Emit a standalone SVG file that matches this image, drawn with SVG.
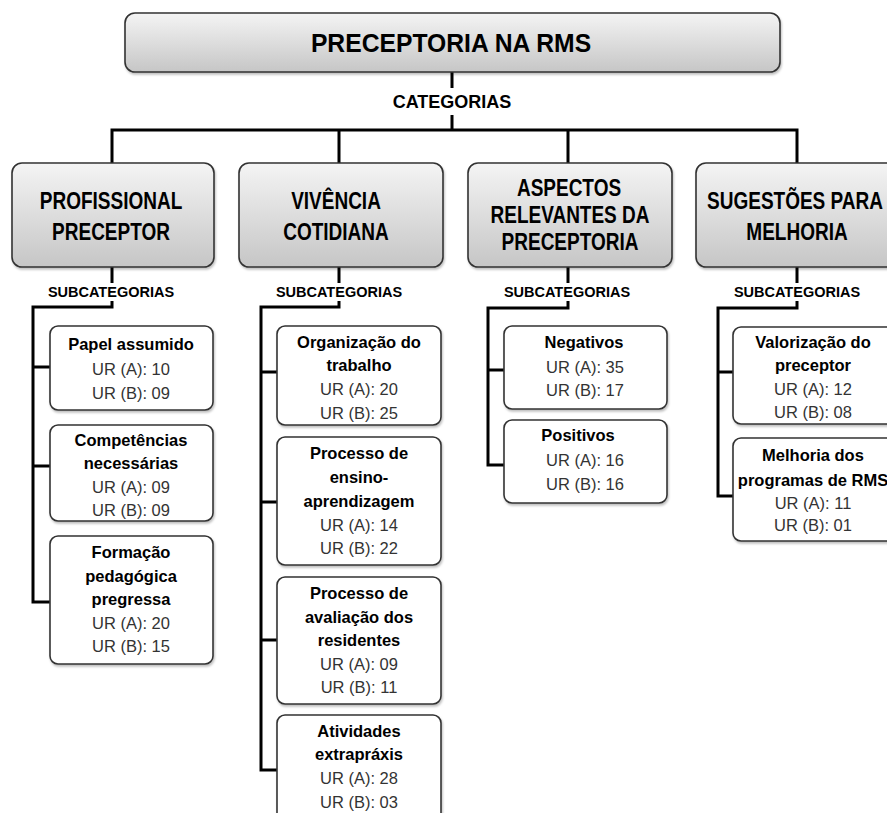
<svg xmlns="http://www.w3.org/2000/svg" width="887" height="813" viewBox="0 0 887 813">
<defs>
<linearGradient id="g" x1="0" y1="0" x2="0" y2="1">
<stop offset="0" stop-color="#f4f4f4"/>
<stop offset="1" stop-color="#c6c6c6"/>
</linearGradient>
<filter id="sh" x="-5%" y="-5%" width="110%" height="115%">
<feDropShadow dx="1" dy="2" stdDeviation="1.2" flood-color="#000" flood-opacity="0.25"/>
</filter>
<style>
.cat{fill:url(#g);stroke:#333;stroke-width:1.6;filter:url(#sh)}
.sub{fill:#fff;stroke:#333;stroke-width:1.6;filter:url(#sh)}
.ln{fill:none;stroke:#000;stroke-width:3;stroke-linejoin:miter}
.t{font-family:"Liberation Sans",Arial,sans-serif;text-anchor:middle;fill:#000}
.big{font-size:24.7px;font-weight:bold}
.hd{font-size:19px;font-weight:bold}
.lab{font-size:18px;font-weight:bold}
.sl{font-size:14.5px;font-weight:bold}
.b{font-size:16.5px;font-weight:bold}
.r{font-size:16.5px;fill:#333}
</style>
</defs>

<g id="connectors">
<path class="ln" d="M452 72V88M452 115V130M112 163V130H797V163M339 130V163M568 130V163"/>
<path class="ln" d="M112 267V283M112 301V307H33V602H50M33 367H50M33 466H50"/>
<path class="ln" d="M339 267V283M339 301V307H261V770H277M261 372H277M261 502H277M261 640H277"/>
<path class="ln" d="M568 267V283M568 301V308H488V465H504M488 370H504"/>
<path class="ln" d="M797 267V283M797 301V308H718V496H733M718 372H733"/>
</g>

<g id="root">
<rect class="cat" x="125" y="13" width="655" height="59" rx="10"/>
<text class="t big" transform="translate(451 52) scale(1 1.08)">PRECEPTORIA NA RMS</text>
</g>
<g id="lbl-categorias">
<text class="t lab" x="452" y="108">CATEGORIAS</text>
</g>

<g id="cat1">
<rect class="cat" x="12" y="163" width="202" height="104" rx="10"/>
<text class="t hd" transform="translate(111 209) scale(1 1.28)">PROFISSIONAL</text>
<text class="t hd" transform="translate(111 240) scale(1 1.28)">PRECEPTOR</text>
<text class="t sl" x="111" y="297">SUBCATEGORIAS</text>
</g>
<g id="cat2">
<rect class="cat" x="239" y="163" width="204" height="104" rx="10"/>
<text class="t hd" transform="translate(336 209) scale(1 1.28)">VIVÊNCIA</text>
<text class="t hd" transform="translate(336 240) scale(1 1.28)">COTIDIANA</text>
<text class="t sl" x="339" y="297">SUBCATEGORIAS</text>
</g>
<g id="cat3">
<rect class="cat" x="468" y="163" width="204" height="104" rx="10"/>
<text class="t hd" transform="translate(569 196) scale(1 1.28)">ASPECTOS</text>
<text class="t hd" transform="translate(570 223) scale(1 1.28)">RELEVANTES DA</text>
<text class="t hd" transform="translate(570 250) scale(1 1.28)">PRECEPTORIA</text>
<text class="t sl" x="567" y="297">SUBCATEGORIAS</text>
</g>
<g id="cat4">
<rect class="cat" x="696" y="163" width="204" height="104" rx="10"/>
<text class="t hd" transform="translate(795 209) scale(1 1.28)">SUGESTÕES PARA</text>
<text class="t hd" transform="translate(797 240) scale(1 1.28)">MELHORIA</text>
<text class="t sl" x="797" y="297">SUBCATEGORIAS</text>
</g>

<g id="s1a">
<rect class="sub" x="50" y="326" width="163" height="84" rx="8"/>
<text class="t b" x="131" y="350">Papel assumido</text>
<text class="t r" x="131" y="375">UR (A): 10</text>
<text class="t r" x="131" y="399">UR (B): 09</text>
</g>
<g id="s1b">
<rect class="sub" x="50" y="425" width="163" height="96" rx="8"/>
<text class="t b" x="131" y="446">Competências</text>
<text class="t b" x="131" y="469">necessárias</text>
<text class="t r" x="131" y="493">UR (A): 09</text>
<text class="t r" x="131" y="516">UR (B): 09</text>
</g>
<g id="s1c">
<rect class="sub" x="50" y="536" width="163" height="128" rx="8"/>
<text class="t b" x="131" y="558">Formação</text>
<text class="t b" x="131" y="582">pedagógica</text>
<text class="t b" x="131" y="605">pregressa</text>
<text class="t r" x="131" y="629">UR (A): 20</text>
<text class="t r" x="131" y="652">UR (B): 15</text>
</g>

<g id="s2a">
<rect class="sub" x="277" y="326" width="164" height="99" rx="8"/>
<text class="t b" x="359" y="348">Organização do</text>
<text class="t b" x="359" y="371">trabalho</text>
<text class="t r" x="359" y="395">UR (A): 20</text>
<text class="t r" x="359" y="419">UR (B): 25</text>
</g>
<g id="s2b">
<rect class="sub" x="277" y="437" width="164" height="128" rx="8"/>
<text class="t b" x="359" y="459">Processo de</text>
<text class="t b" x="359" y="483">ensino-</text>
<text class="t b" x="359" y="507">aprendizagem</text>
<text class="t r" x="359" y="531">UR (A): 14</text>
<text class="t r" x="359" y="554">UR (B): 22</text>
</g>
<g id="s2c">
<rect class="sub" x="277" y="577" width="164" height="127" rx="8"/>
<text class="t b" x="359" y="599">Processo de</text>
<text class="t b" x="359" y="623">avaliação dos</text>
<text class="t b" x="359" y="646">residentes</text>
<text class="t r" x="359" y="670">UR (A): 09</text>
<text class="t r" x="359" y="693">UR (B): 11</text>
</g>
<g id="s2d">
<rect class="sub" x="277" y="715" width="164" height="112" rx="8"/>
<text class="t b" x="359" y="737">Atividades</text>
<text class="t b" x="359" y="760">extrapráxis</text>
<text class="t r" x="359" y="784">UR (A): 28</text>
<text class="t r" x="359" y="808">UR (B): 03</text>
</g>

<g id="s3a">
<rect class="sub" x="504" y="326" width="163" height="83" rx="8"/>
<text class="t b" x="584" y="348">Negativos</text>
<text class="t r" x="585" y="373">UR (A): 35</text>
<text class="t r" x="585" y="396">UR (B): 17</text>
</g>
<g id="s3b">
<rect class="sub" x="504" y="420" width="163" height="83" rx="8"/>
<text class="t b" x="578" y="441">Positivos</text>
<text class="t r" x="585" y="466">UR (A): 16</text>
<text class="t r" x="585" y="490">UR (B): 16</text>
</g>

<g id="s4a">
<rect class="sub" x="733" y="327" width="163" height="97" rx="8"/>
<text class="t b" x="813" y="348">Valorização do</text>
<text class="t b" x="813" y="371">preceptor</text>
<text class="t r" x="813" y="395">UR (A): 12</text>
<text class="t r" x="813" y="418">UR (B): 08</text>
</g>
<g id="s4b">
<rect class="sub" x="733" y="438" width="163" height="103" rx="8"/>
<text class="t b" x="813" y="461">Melhoria dos</text>
<text class="t b" x="813" y="486">programas de RMS</text>
<text class="t r" x="813" y="509">UR (A): 11</text>
<text class="t r" x="813" y="531">UR (B): 01</text>
</g>
</svg>
